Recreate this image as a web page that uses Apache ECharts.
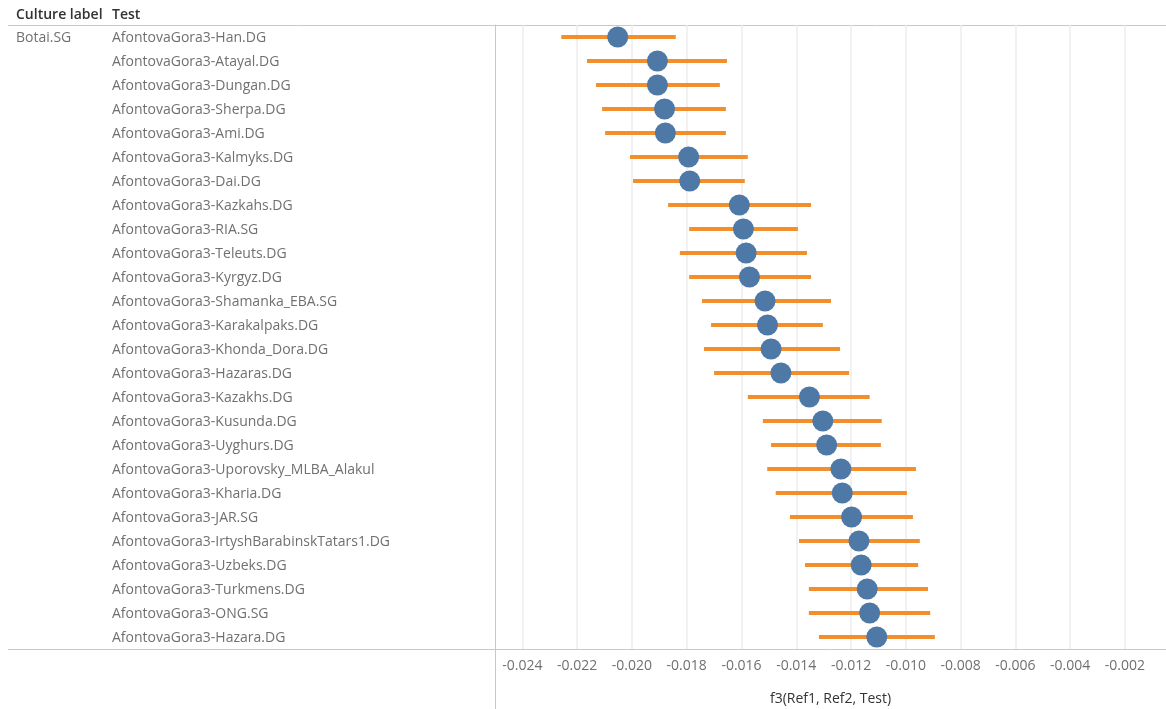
<!DOCTYPE html>
<html>
<head>
<meta charset="utf-8">
<script src="https://cdn.jsdelivr.net/npm/echarts@6/dist/echarts.min.js"></script>
<style>
  html, body { margin: 0; padding: 0; background: #fff; }
  #chart { width: 1166px; height: 709px; }
</style>
</head>
<body>
<div id="chart"></div>
<script>
// f3 statistics with their error ranges, one row per test population
const cultureLabel = 'Botai.SG';
const tests = [
  'AfontovaGora3-Han.DG', 'AfontovaGora3-Atayal.DG', 'AfontovaGora3-Dungan.DG',
  'AfontovaGora3-Sherpa.DG', 'AfontovaGora3-Ami.DG', 'AfontovaGora3-Kalmyks.DG',
  'AfontovaGora3-Dai.DG', 'AfontovaGora3-Kazkahs.DG', 'AfontovaGora3-RIA.SG',
  'AfontovaGora3-Teleuts.DG', 'AfontovaGora3-Kyrgyz.DG', 'AfontovaGora3-Shamanka_EBA.SG',
  'AfontovaGora3-Karakalpaks.DG', 'AfontovaGora3-Khonda_Dora.DG', 'AfontovaGora3-Hazaras.DG',
  'AfontovaGora3-Kazakhs.DG', 'AfontovaGora3-Kusunda.DG', 'AfontovaGora3-Uyghurs.DG',
  'AfontovaGora3-Uporovsky_MLBA_Alakul', 'AfontovaGora3-Kharia.DG', 'AfontovaGora3-JAR.SG',
  'AfontovaGora3-IrtyshBarabinskTatars1.DG', 'AfontovaGora3-Uzbeks.DG', 'AfontovaGora3-Turkmens.DG',
  'AfontovaGora3-ONG.SG', 'AfontovaGora3-Hazara.DG'
];
const f3 = [
  -0.02052, -0.01907, -0.01907, -0.01881, -0.01878, -0.01793, -0.01789, -0.01608, -0.01593,
  -0.01583, -0.01571, -0.01514, -0.01505, -0.01492, -0.01456, -0.01352, -0.01303, -0.01289,
  -0.01237, -0.01232, -0.01198, -0.01171, -0.01163, -0.01141, -0.01132, -0.01106
];
const lower = [
  -0.02258, -0.02164, -0.02131, -0.02109, -0.02098, -0.02007, -0.01996, -0.01868, -0.01791,
  -0.01825, -0.01791, -0.01744, -0.01711, -0.01737, -0.01700, -0.01577, -0.01522, -0.01492,
  -0.01506, -0.01475, -0.01423, -0.01390, -0.01368, -0.01354, -0.01354, -0.01317
];
const upper = [
  -0.01840, -0.01653, -0.01679, -0.01657, -0.01657, -0.01577, -0.01588, -0.01346, -0.01394,
  -0.01361, -0.01346, -0.01273, -0.01303, -0.01240, -0.01207, -0.01132, -0.01088, -0.01091,
  -0.00963, -0.00996, -0.00974, -0.00949, -0.00955, -0.00919, -0.00911, -0.00894
];
const tickValues = [-0.024, -0.022, -0.020, -0.018, -0.016, -0.014, -0.012, -0.010, -0.008, -0.006, -0.004, -0.002];

const FONT = '"Open Sans", "Noto Sans", sans-serif';
const LINE = '#c8c8c8';

const chart = echarts.init(document.getElementById('chart'), null, { renderer: 'canvas' });

const rangeData = tests.map((t, i) => [lower[i], upper[i], i]);
const pointData = tests.map((t, i) => [f3[i], i]);

chart.setOption({
  animation: false,
  backgroundColor: '#fff',
  grid: { left: 495, right: 0, top: 25, bottom: 60, outerBoundsMode: 'none', containLabel: false },
  xAxis: {
    type: 'value',
    min: -0.025,
    max: -0.0005,
    name: 'f3(Ref1, Ref2, Test)',
    nameLocation: 'middle',
    nameGap: 43,
    nameTextStyle: { color: '#333', fontSize: 14, fontFamily: FONT },
    axisLine: { show: true, lineStyle: { color: LINE, width: 1 } },
    axisTick: { show: false, customValues: tickValues },
    axisLabel: {
      customValues: tickValues,
      color: '#707070', fontSize: 14, fontFamily: FONT, margin: 10,
      formatter: v => v.toFixed(3)
    },
    splitLine: { show: true, lineStyle: { color: '#ececec', width: 1.5 } }
  },
  yAxis: {
    type: 'category',
    data: tests,
    inverse: true,
    axisLine: { show: true, lineStyle: { color: LINE, width: 1 } },
    axisTick: { show: false },
    splitLine: { show: false },
    axisLabel: {
      margin: 479,
      align: 'left',
      interval: 0,
      formatter: (v, i) => '{c|' + (i === 0 ? cultureLabel : '') + '}{t|' + v + '}',
      rich: {
        c: { width: 96, color: '#707070', fontSize: 14, fontFamily: FONT, padding: [3, 0, 0, 0] },
        t: { color: '#707070', fontSize: 14, fontFamily: FONT, padding: [3, 0, 0, 0] }
      }
    }
  },
  graphic: [
    { type: 'text', left: 16, top: 8, style: { text: 'Culture label', fill: '#333', font: '600 14px ' + FONT } },
    { type: 'text', left: 112, top: 8, style: { text: 'Test', fill: '#333', font: '600 14px ' + FONT } },
    { type: 'line', shape: { x1: 8, y1: 25.5, x2: 1166, y2: 25.5 }, style: { stroke: LINE, lineWidth: 1 } },
    { type: 'line', shape: { x1: 8, y1: 649.5, x2: 495, y2: 649.5 }, style: { stroke: LINE, lineWidth: 1 } },
    { type: 'line', shape: { x1: 495.5, y1: 649, x2: 495.5, y2: 709 }, style: { stroke: LINE, lineWidth: 1 } }
  ],
  series: [
    {
      type: 'custom',
      data: rangeData,
      encode: { x: [0, 1], y: 2 },
      z: 2,
      renderItem: (params, api) => {
        const a = api.coord([api.value(0), api.value(2)]);
        const b = api.coord([api.value(1), api.value(2)]);
        return {
          type: 'rect',
          shape: { x: a[0], y: a[1] - 2, width: b[0] - a[0], height: 4 },
          style: { fill: '#F28E2B' }
        };
      }
    },
    {
      type: 'scatter',
      data: pointData,
      symbol: 'circle',
      symbolSize: 21,
      z: 3,
      itemStyle: { color: '#4E79A7', opacity: 1 }
    }
  ]
});
</script>
</body>
</html>
